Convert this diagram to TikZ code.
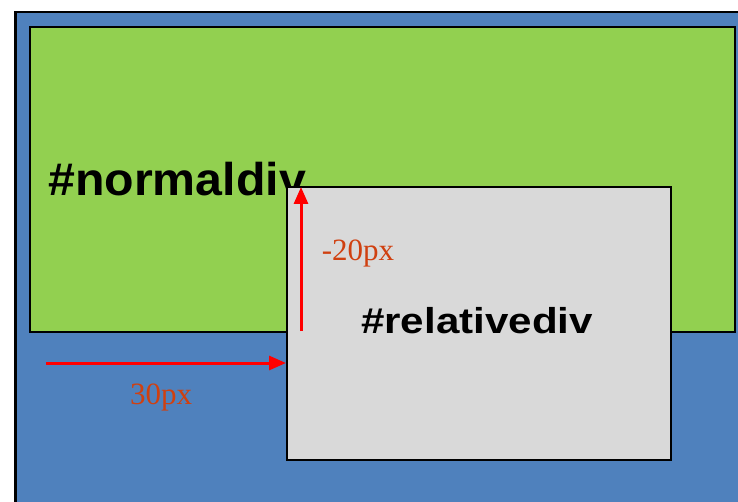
\documentclass[tikz,border=0pt]{standalone}
\usepackage{fontspec}
\setmainfont{Liberation Serif}
\newfontfamily\arialfont{Liberation Sans}
\usetikzlibrary{arrows.meta, positioning}

\definecolor{outerblue}{RGB}{79,129,189}
\definecolor{divgreen}{RGB}{146,208,80}
\definecolor{divgray}{RGB}{217,217,217}
\definecolor{pxorange}{RGB}{208,64,16}

\begin{document}
\begin{tikzpicture}[x=1pt, y=-1pt,
    box/.style={rectangle, draw=black, line width=2pt, inner sep=0pt, anchor=north west},
    divlabel/.style={font=\arialfont\bfseries, text=black, inner sep=0pt, anchor=base},
    pxlabel/.style={font=\fontsize{31}{31}\selectfont, text=pxorange, inner sep=0pt, anchor=base},
    arrow/.style={draw=red, line width=3pt, -{Triangle[length=17pt, width=14pt]}}
    ]
    \useasboundingbox (0,0) rectangle (738,502);
    \clip (0,0) rectangle (738,502);

    % Boxes
    \node (outer) [box, fill=outerblue, line width=2.5pt, minimum width=740pt, minimum height=500pt] at (14,11) {};
    \node (normaldiv) [box, fill=divgreen, minimum width=705pt, minimum height=305pt] at (29,26) {};
    \node (normaltext) [divlabel, anchor=base west, font=\arialfont\bfseries\fontsize{46}{46}\selectfont, xscale=1.05] at (48,196) {\#normaldiv};
    \node (relativediv) [box, fill=divgray, minimum width=384pt, minimum height=273pt] at (286,186) {};
    \node (relativetext) [divlabel, font=\arialfont\bfseries\fontsize{36}{36}\selectfont, xscale=1.17] at (477,333) {\#relativediv};

    % Arrows
    \coordinate (vstart) at (301,331);
    \coordinate (vend) at (301,187);
    \coordinate (hstart) at (46,363);
    \coordinate (hend) at (relativediv.west |- hstart);
    \draw [arrow] (vstart) -- (vend);
    \draw [arrow] (hstart) -- (hend);

    % Labels
    \node (toplabel) [pxlabel] at (358,261) {-20px};
    \node (leftlabel) [pxlabel] at (161,404) {30px};

\end{tikzpicture}
\end{document}
